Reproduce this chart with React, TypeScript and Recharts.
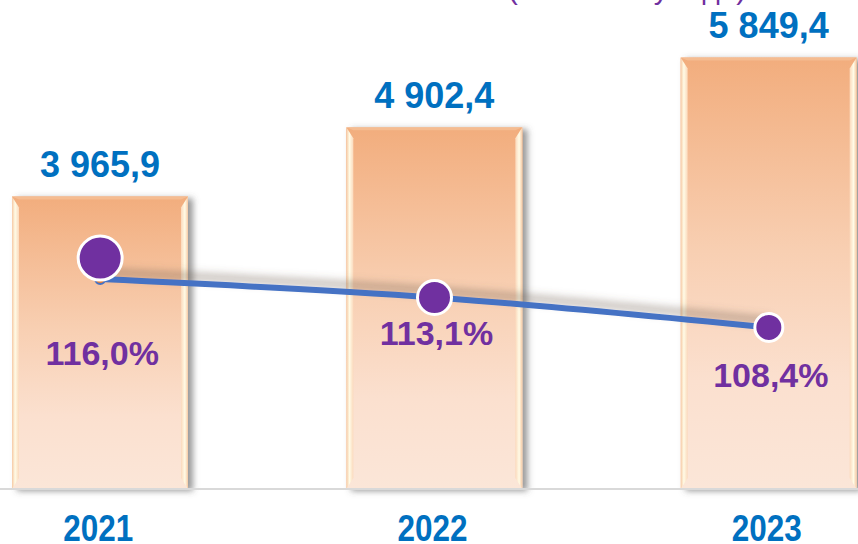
import React from 'react'
import { Bar, ComposedChart, LabelList, Line, XAxis, YAxis } from 'recharts'

const years = ['2021', '2022', '2023']
const volumes = [3965.9, 4902.4, 5849.4]
const growth = [116.0, 113.1, 108.4]

const data = years.map((year, i) => ({ year, volume: volumes[i], growth: growth[i] }))

const FONT = "Arial, 'Liberation Sans', sans-serif"

const fmtVolume = (v: number) => {
  const [int, dec] = v.toFixed(1).split('.')
  return int.replace(/\B(?=(\d{3})+(?!\d))/g, ' ') + ',' + dec
}
const fmtPct = (v: number) => v.toFixed(1).replace('.', ',') + '%'

const BevelBar = (props: any) => {
  const { x, y, width, height } = props
  const b = 7
  const r = x + width
  const bot = y + height
  return (
    <g filter="url(#barShadow)">
      <rect x={x} y={y} width={width} height={height} fill="url(#barFill)" />
      <polygon points={`${x},${y} ${x + b},${y + 11} ${x + b},${bot - 11} ${x},${bot}`} fill="url(#bevelLeft)" />
      <polygon points={`${r},${y} ${r - b},${y + 11} ${r - b},${bot - 11} ${r},${bot}`} fill="url(#bevelRight)" />
      <polygon points={`${x},${y} ${r},${y} ${r - b},${y + 3} ${x + b},${y + 3}`} fill="#f7c29a" opacity={0.7} />
    </g>
  )
}

const VolumeLabel = (props: any) => {
  const { x, y, width, value } = props
  return (
    <text x={x + width / 2} y={y - 32} dy="0.36em" textAnchor="middle" fill="#0070c0" fontSize={36} fontWeight="bold" fontFamily={FONT}>
      {fmtVolume(value)}
    </text>
  )
}

const dotRadius = [22, 17, 14]
const labelOffset = [74, 35, 47]

const GrowthDot = (props: any) => {
  const { cx, cy, index } = props
  const rr = dotRadius[index] ?? 14
  const cyc = index === 0 ? cy - rr + 1 : cy
  return (
    <g key={`dot-${index}`}>
      {index === 0 && <circle cx={cx} cy={cy} r={5} fill="#ed7d31" stroke="#4472c4" strokeWidth={2} />}
      <circle cx={cx} cy={cyc} r={rr} fill="#7030a0" stroke="#ffffff" strokeWidth={3} />
    </g>
  )
}

const GrowthLabel = (props: any) => {
  const { x, y, value, index } = props
  return (
    <text x={x + 2} y={y + (labelOffset[index] ?? 40)} dy="0.36em" textAnchor="middle" fill="#7030a0" fontSize={34} fontWeight="bold" fontFamily={FONT}>
      {fmtPct(value)}
    </text>
  )
}

const YearTick = (props: any) => {
  const { x, y, payload } = props
  return (
    <text x={x - 2} y={y} dy={52} textAnchor="middle" fill="#0070c0" fontSize={37} fontWeight="bold" fontFamily={FONT} textLength={70} lengthAdjust="spacingAndGlyphs">
      {payload.value}
    </text>
  )
}

export default function App() {
  return (
    <div style={{ position: 'absolute', left: 0, top: 0, width: 858, height: 544, overflow: 'hidden', background: '#ffffff' }}>
      <svg width={858} height={20} style={{ position: 'absolute', left: 0, top: 0 }}>
        <text x={508} y={-1} fill="#7030a0" fontSize={30} fontFamily={FONT} textLength={238} lengthAdjust="spacingAndGlyphs">
          (в % к итогу года)
        </text>
      </svg>
      <div style={{ position: 'absolute', left: -67, top: 0 }}>
        <ComposedChart width={1003} height={544} data={data} margin={{ top: 50, right: 0, left: 0, bottom: 0 }}>
          <defs>
            <linearGradient id="barFill" x1="0" y1="0" x2="0" y2="1">
              <stop offset="0%" stopColor="#f2ad7d" />
              <stop offset="45%" stopColor="#f8cfb2" />
              <stop offset="75%" stopColor="#fbe0cf" />
              <stop offset="100%" stopColor="#fbe6d8" />
            </linearGradient>
            <linearGradient id="bevelLeft" x1="0" y1="0" x2="1" y2="0">
              <stop offset="0%" stopColor="#f6c9a4" />
              <stop offset="45%" stopColor="#fffbe6" />
              <stop offset="100%" stopColor="#fbd9bc" />
            </linearGradient>
            <linearGradient id="bevelRight" x1="1" y1="0" x2="0" y2="0">
              <stop offset="0%" stopColor="#f6c9a4" />
              <stop offset="45%" stopColor="#fffbe6" />
              <stop offset="100%" stopColor="#fbd9bc" />
            </linearGradient>
            <filter id="barShadow" x="-10%" y="-10%" width="130%" height="130%">
              <feDropShadow dx={5} dy={2} stdDeviation={3} floodColor="#555555" floodOpacity={0.6} />
            </filter>
            <filter id="lineShadow" x="-10%" y="-50%" width="120%" height="200%">
              <feDropShadow dx={0} dy={-7} stdDeviation={4} floodColor="#6b5a4a" floodOpacity={0.5} />
            </filter>
          </defs>
          <XAxis
            dataKey="year"
            axisLine={{ stroke: '#d9d9d9', strokeWidth: 2 }}
            tickLine={false}
            tickSize={0}
            tickMargin={0}
            height={55}
            tick={<YearTick />}
            interval={0}
          />
          <YAxis yAxisId="vol" hide domain={[0, 5950]} />
          <YAxis yAxisId="pct" hide orientation="right" domain={[83, 152]} />
          <Bar yAxisId="vol" dataKey="volume" barSize={176} shape={<BevelBar />} isAnimationActive={false}>
            <LabelList dataKey="volume" content={<VolumeLabel />} />
          </Bar>
          <Line
            yAxisId="pct"
            type="monotone"
            dataKey="growth"
            stroke="#4472c4"
            strokeWidth={6}
            filter="url(#lineShadow)"
            dot={<GrowthDot />}
            activeDot={false}
            isAnimationActive={false}
          >
            <LabelList dataKey="growth" content={<GrowthLabel />} />
          </Line>
        </ComposedChart>
      </div>
    </div>
  )
}
